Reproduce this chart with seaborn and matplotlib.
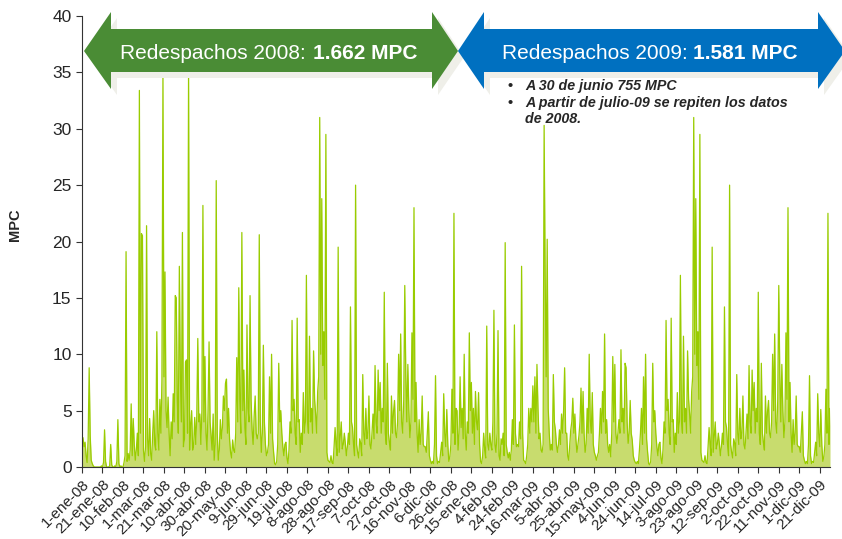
import numpy as np
import pandas as pd
import seaborn as sns
import matplotlib.pyplot as plt
from matplotlib.patches import Polygon

# %% Datos diarios de redespachos (MPC).
ene_08 = [2.3, 2.6, 1.8, 2.2, 1.0, 0.4, 2.5, 8.8, 2.8, 0.6, 0.3, 0.1, 0, 0, 0, 0, 0, 0, 0, 0.1,
          0, 0.4, 3.3, 0.5, 0, 0, 0, 0.1, 2.0, 0.2, 0]
feb_08 = [0, 0.1, 0, 0.5, 4.2, 0.3, 0, 0.1, 0, 0, 0.4, 1.0, 19.1, 0.5, 1.2, 0.6, 1.5, 5.6, 1.0, 4.3,
          2.0, 0.6, 1.5, 3.0, 1.0, 33.4, 3.0, 20.7, 20.5]
mar_08 = [1.5, 0.5, 1.8, 21.4, 2.5, 1.0, 4.3, 1.2, 0.6, 3.0, 5.0, 2.0, 1.5, 12.0, 3.0, 1.5, 6.0, 3.0,
          7.7, 34.9, 8.0, 17.3, 5.0, 3.5, 6.2, 3.0, 1.0, 4.0, 2.5, 6.5, 4.0]
abr_08 = [15.2, 15.0, 6.0, 3.0, 17.8, 8.0, 4.0, 20.8, 1.8, 2.5, 9.3, 9.5, 3.0, 35.0, 1.5, 3.7, 5.0,
          1.5, 2.0, 4.4, 2.0, 4.5, 11.4, 4.0, 4.7, 2.0, 5.0, 23.2, 4.0, 9.8]
may_08 = [3.0, 1.5, 5.0, 11.1, 4.0, 2.8, 1.5, 4.7, 0.6, 2.0, 25.4, 3.0, 0.6, 1.5, 4.2, 2.5, 3.5, 6.3,
          5.0, 7.4, 7.8, 3.0, 5.2, 2.5, 1.3, 0.8, 2.4, 1.5, 1.3, 3.0, 9.7]
jun_08 = [4.0, 15.9, 6.0, 3.0, 20.8, 5.0, 8.6, 3.5, 2.0, 12.6, 5.2, 4.0, 15.2, 6.0, 3.3, 2.0, 4.5,
          6.3, 3.0, 2.5, 3.0, 20.6, 4.0, 1.3, 3.0, 10.8, 4.0, 2.0, 1.0, 1.3]
jul_08 = [2.0, 8.0, 3.0, 10.0, 2.5, 1.3, 0.3, 0.2, 0.5, 2.0, 9.2, 4.0, 5.0, 3.0, 1.8, 1.0, 2.0, 2.2,
          0.8, 0.3, 1.5, 4.0, 3.0, 13.0, 5.0, 6.0, 3.0, 2.0, 13.2, 4.0, 4.2]
ago_08 = [1.3, 3.0, 2.0, 6.6, 3.0, 4.0, 17.0, 4.2, 3.0, 11.6, 4.0, 5.2, 3.0, 10.3, 6.0, 4.7, 3.0, 6.7,
          8.0, 31.0, 10.0, 23.8, 9.0, 12.0, 6.0, 29.5, 1.3, 0.6, 0.5, 0.4, 1.0]
sep_08 = [0.4, 0.3, 1.8, 3.5, 2.0, 1.0, 19.5, 1.3, 2.6, 4.0, 1.6, 2.0, 3.0, 2.1, 1.0, 1.8, 3.0, 2.0,
          14.2, 4.0, 3.5, 2.0, 1.0, 25.0, 2.0, 1.3, 0.8, 2.5, 2.1, 1.0]
oct_08 = [8.2, 3.0, 2.0, 5.2, 2.5, 3.0, 6.3, 2.0, 1.6, 3.0, 4.7, 2.5, 9.0, 4.0, 3.0, 8.6, 5.0, 7.5,
          3.0, 5.2, 4.0, 15.5, 3.0, 2.0, 9.2, 3.0, 2.2, 1.5, 6.3, 3.0, 4.9]
nov_08 = [5.9, 3.0, 2.6, 4.0, 10.0, 5.0, 11.8, 4.0, 3.0, 6.0, 16.1, 8.2, 4.0, 9.1, 5.0, 2.6, 4.0,
          11.9, 6.0, 23.0, 4.0, 7.5, 3.0, 1.3, 4.2, 2.0, 3.0, 6.3, 2.0, 1.8]
dic_08 = [1.8, 1.3, 3.0, 4.9, 1.0, 0.6, 0.3, 0.5, 0.3, 2.0, 8.1, 1.0, 0.3, 0.5, 0.4, 1.3, 2.2, 1.0,
          6.5, 3.0, 1.8, 5.1, 2.0, 0.5, 0.9, 2.0, 6.9, 3.0, 22.5, 2.0, 5.2]
ene_09 = [5.0, 1.5, 3.0, 8.0, 3.5, 5.2, 2.5, 10.0, 3.0, 1.5, 4.0, 3.0, 11.9, 5.0, 7.5, 3.0, 5.2, 2.0,
          6.7, 4.0, 3.3, 6.6, 2.0, 0.5, 0.3, 1.0, 3.0, 1.5, 0.8, 12.5, 2.0]
feb_09 = [1.5, 3.0, 2.0, 1.5, 4.0, 13.9, 2.0, 1.3, 3.0, 12.1, 1.0, 0.6, 2.5, 2.0, 3.0, 1.0, 19.9, 2.0,
          1.3, 0.8, 1.3, 0.6, 1.5, 4.2, 2.0, 12.6, 3.0, 1.8]
mar_09 = [2.0, 1.8, 4.0, 2.5, 17.8, 3.0, 0.6, 0.5, 0.3, 1.0, 2.0, 5.2, 3.0, 5.2, 4.0, 7.2, 4.0, 8.0,
          3.0, 9.1, 5.2, 2.5, 3.0, 1.5, 1.3, 2.0, 30.3, 17.0, 8.0, 20.2, 5.2]
abr_09 = [3.0, 1.5, 2.0, 1.5, 8.2, 4.0, 3.3, 2.0, 1.3, 2.0, 3.3, 2.0, 4.7, 3.0, 5.0, 8.8, 3.0, 3.0,
          1.0, 0.6, 2.0, 3.3, 4.0, 6.1, 3.0, 4.7, 2.5, 1.3, 2.0, 2.8]
may_09 = [4.0, 7.0, 3.0, 6.7, 3.0, 1.3, 2.0, 5.2, 3.0, 10.0, 4.2, 3.0, 6.6, 2.0, 1.3, 1.0, 0.6, 1.0,
          1.3, 3.0, 5.2, 3.0, 6.7, 4.0, 11.8, 3.0, 4.2, 2.0, 1.3, 2.0, 0.9]
jun_09 = [3.0, 9.8, 4.0, 9.1, 3.0, 2.1, 3.0, 4.2, 3.0, 10.4, 4.0, 5.2, 3.0, 9.2, 8.8, 4.0, 2.1, 3.0,
          5.9, 3.0, 2.4, 1.0, 0.6, 0.4, 0.3, 0.5, 0.3, 1.5, 3.0, 5.2]

etiquetas_x = ['1-ene-08', '21-ene-08', '10-feb-08', '1-mar-08', '21-mar-08', '10-abr-08',
               '30-abr-08', '20-may-08', '9-jun-08', '29-jun-08', '19-jul-08', '8-ago-08',
               '28-ago-08', '17-sep-08', '7-oct-08', '27-oct-08', '16-nov-08', '6-dic-08',
               '26-dic-08', '15-ene-09', '4-feb-09', '24-feb-09', '16-mar-09', '5-abr-09',
               '25-abr-09', '15-may-09', '4-jun-09', '24-jun-09', '14-jul-09', '3-ago-09',
               '23-ago-09', '12-sep-09', '2-oct-09', '22-oct-09', '11-nov-09', '1-dic-09',
               '21-dic-09']

titulo_2008, total_2008 = 'Redespachos 2008:', '1.662 MPC'
titulo_2009, total_2009 = 'Redespachos 2009:', '1.581 MPC'
notas_2009 = ['A 30 de junio 755 MPC', 'A partir de julio-09 se repiten los datos', 'de 2008.']

# %% Serie completa (desde julio-09 se repiten los datos de 2008).
primer_sem_08 = ene_08 + feb_08 + mar_08 + abr_08 + may_08 + jun_08
segundo_sem_08 = jul_08 + ago_08 + sep_08 + oct_08 + nov_08 + dic_08
primer_sem_09 = ene_09 + feb_09 + mar_09 + abr_09 + may_09 + jun_09
valores = primer_sem_08 + segundo_sem_08 + primer_sem_09 + segundo_sem_08

df = pd.DataFrame({'dia': np.arange(len(valores)), 'mpc': valores})

# %% Gráfico.
sns.set_style('ticks')
plt.rcParams['font.family'] = ['Liberation Sans', 'DejaVu Sans']

fig = plt.figure(figsize=(8.42, 5.39), dpi=100)
ax = fig.add_axes([82 / 842, 1 - 467 / 539, 748 / 842, 451 / 539])

ax.fill_between(df['dia'], df['mpc'], color='#C8DC6E', linewidth=0)
sns.lineplot(data=df, x='dia', y='mpc', color='#99CC00', linewidth=0.9, ax=ax)

ax.set_xlim(0, len(valores) - 1)
ax.set_ylim(0, 40)
ax.set_yticks(range(0, 41, 5))
ax.set_xticks(range(0, len(valores), 20))
ax.set_xticklabels(etiquetas_x, rotation=45, ha='right', va='top', rotation_mode='anchor', fontsize=11)
ax.tick_params(axis='y', labelsize=12.5, length=4, width=0.8, color='#333333')
ax.tick_params(axis='x', length=4, width=0.8, color='#333333')
ax.set_xlabel('')
ax.set_ylabel('MPC', fontweight='bold', fontsize=10.5)
ax.yaxis.set_label_coords(-0.08, 0.537)
for lado in ['left', 'bottom']:
    ax.spines[lado].set_color('#333333')
    ax.spines[lado].set_linewidth(0.8)
sns.despine(ax=ax)

# Capa en píxeles para las flechas y las notas.
capa = fig.add_axes([0, 0, 1, 1])
capa.set_xlim(0, 842)
capa.set_ylim(539, 0)
capa.axis('off')

flecha_verde = [(84, 51), (111, 12), (111, 29), (432, 29), (432, 12), (458, 51),
                (432, 89), (432, 72), (111, 72), (111, 89)]
flecha_azul = [(458, 51), (484, 12), (484, 29), (818, 29), (818, 12), (845, 51),
               (818, 89), (818, 72), (484, 72), (484, 89)]

for puntos, color in [(flecha_verde, '#4A8C35'), (flecha_azul, '#0070C0')]:
    sombra = [(x + 6, y + 6) for x, y in puntos]
    capa.add_patch(Polygon(sombra, closed=True, facecolor='#EFEFE9', edgecolor='none', zorder=1))
    capa.add_patch(Polygon(puntos, closed=True, facecolor=color, edgecolor='none', zorder=2))

capa.text(120, 59, titulo_2008, color='white', fontsize=15, va='baseline', zorder=3)
capa.text(313, 59, total_2008, color='white', fontsize=15, fontweight='bold', va='baseline', zorder=3)
capa.text(502, 59, titulo_2009, color='white', fontsize=15, va='baseline', zorder=3)
capa.text(693, 59, total_2009, color='white', fontsize=15, fontweight='bold', va='baseline', zorder=3)

for i, (linea, y) in enumerate(zip(notas_2009, [90, 107, 123])):
    if i < 2:
        capa.text(507, y, '•', fontsize=10.3, fontweight='bold', va='baseline', zorder=3)
    capa.text(525, y, linea, fontsize=10.3, fontweight='bold', style='italic', va='baseline', zorder=3)

fig.savefig('out.png', dpi=100)
